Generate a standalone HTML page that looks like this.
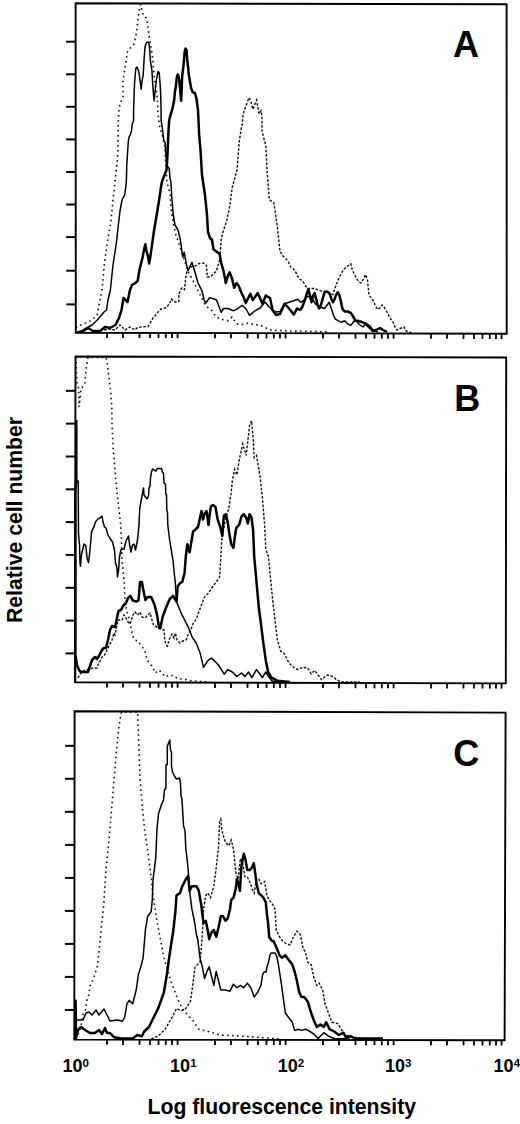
<!DOCTYPE html><html><head><meta charset="utf-8"><style>html,body{margin:0;padding:0;background:#fff;overflow:hidden;}svg{display:block;font-family:"Liberation Sans",sans-serif;font-weight:bold;}</style></head><body>
<svg width="520" height="1124" viewBox="0 0 520 1124">
<rect width="520" height="1124" fill="#fff"/>
<polyline points="76.0,328.0 78.0,326.0 86.0,323.0 92.0,320.0 97.0,315.0 99.0,305.0 102.0,290.0 104.6,262.0 107.3,242.0 110.8,222.7 113.0,200.0 116.5,168.0 117.4,160.6 118.0,147.0 118.0,133.6 118.3,120.0 118.7,112.0 120.0,104.0 123.0,97.0 123.0,80.0 126.0,62.0 127.3,52.0 130.5,47.9 134.0,44.0 135.4,38.0 136.7,31.0 137.7,21.0 139.0,12.0 140.6,4.5 142.0,10.0 143.6,16.0 146.5,18.0 148.1,28.0 149.2,37.0 152.3,55.0 154.6,80.0 157.0,97.0 157.8,104.0 157.8,110.8 159.1,124.2 161.1,131.0 164.5,144.4 165.2,149.8 165.4,158.5 166.9,181.5 168.5,187.7 170.0,193.8 170.8,206.2 172.3,216.9 173.1,223.0 176.0,235.0 180.0,247.0 186.0,265.0 188.8,273.0 192.0,278.5 196.5,287.7 199.6,293.8 202.0,298.5 205.0,304.6 208.0,307.7 212.0,310.8 215.0,315.4 218.8,318.5 224.2,320.0 228.0,320.8 232.0,317.0 236.5,323.8 241.2,324.6 248.8,323.0 253.5,324.6 260.0,325.0 270.0,330.0 290.0,331.0 330.0,332.0" fill="none" stroke="#111" stroke-width="1.6" stroke-dasharray="1.6 3.4" stroke-linecap="butt"/>
<polyline points="100.0,331.0 104.0,330.0 110.0,329.0 115.0,330.0 120.0,325.0 125.0,330.0 130.0,327.0 135.0,330.0 137.3,327.7 142.0,326.8 148.0,326.5 150.5,322.7 153.0,318.0 155.0,316.0 158.0,312.0 161.0,309.0 165.0,308.0 167.0,307.0 170.0,302.3 171.5,299.0 174.0,302.0 178.8,301.5 178.8,295.0 180.0,290.7 182.0,288.0 184.5,289.6 185.2,282.0 186.0,275.0 187.3,270.0 190.0,267.0 195.0,266.0 199.0,263.5 203.5,263.0 206.5,265.4 207.3,277.0 210.4,277.0 216.5,270.8 219.6,260.0 221.2,240.0 223.0,232.0 226.9,220.0 230.0,204.6 232.3,187.0 237.0,170.0 239.4,140.0 240.4,134.2 241.3,128.5 242.3,123.7 242.8,117.0 244.2,110.2 246.0,106.0 249.0,97.7 250.5,100.0 252.9,109.2 255.0,104.0 256.7,100.0 258.2,109.2 259.1,114.0 261.0,110.7 262.0,116.0 262.0,123.7 262.0,130.4 263.5,137.0 265.8,145.4 267.0,170.0 269.3,199.6 273.9,203.0 277.4,227.4 280.0,251.5 283.0,256.0 286.2,259.2 288.5,262.3 290.8,267.0 293.0,268.5 295.4,271.5 297.7,276.2 300.0,279.2 302.3,280.8 304.6,283.8 307.0,288.5 310.8,288.5 314.6,288.5 318.5,290.0 322.3,291.5 326.2,291.5 329.2,293.0 333.0,294.6 335.4,287.0 337.7,280.8 340.0,276.2 342.3,271.5 344.6,268.5 347.0,267.0 349.2,264.6 350.8,263.8 352.3,270.0 354.6,274.6 357.0,279.2 358.5,281.5 361.0,283.0 363.5,279.0 365.5,274.5 367.5,280.0 368.5,290.0 369.0,295.0 373.0,300.0 375.0,305.0 377.5,309.5 380.0,308.0 382.0,305.0 384.0,307.0 387.0,312.0 390.0,318.0 393.0,322.0 395.0,327.0 397.0,330.0 400.0,328.5 404.0,327.0 406.0,331.0 412.0,333.0" fill="none" stroke="#111" stroke-width="1.4" stroke-dasharray="2.6 1.6"/>
<polyline points="77.0,332.0 80.0,332.0 86.5,328.0 92.0,325.0 97.3,320.0 104.0,312.0 106.5,310.0 108.0,300.0 110.4,290.0 113.0,265.0 116.5,242.0 118.0,228.0 120.0,211.0 122.0,200.0 124.6,195.0 125.0,192.7 126.0,185.0 126.4,180.0 126.8,164.6 127.5,153.8 128.2,143.0 128.8,137.7 130.2,135.0 131.5,131.0 132.2,124.2 133.6,120.2 133.6,110.0 134.5,83.8 135.8,68.5 137.0,67.0 138.8,71.5 140.1,80.8 141.2,89.2 141.9,82.3 143.2,74.6 144.2,57.7 145.0,47.0 146.5,42.3 148.8,42.3 149.6,48.5 150.4,60.8 151.9,70.0 152.7,83.8 153.5,94.6 154.2,100.8 155.0,91.5 156.5,79.2 158.1,71.5 159.2,73.0 160.1,83.8 160.7,94.6 161.1,110.0 161.1,120.2 162.5,129.6 163.8,140.4 165.2,143.0 165.9,153.8 166.5,164.6 169.2,168.6 170.0,178.0 170.8,181.5 172.0,200.0 173.3,215.0 175.0,225.0 178.0,230.0 180.4,240.0 182.7,257.0 184.2,252.3 186.5,264.6 188.0,270.8 191.9,262.3 195.0,272.3 198.0,283.0 202.0,290.8 204.2,300.0 205.8,303.0 209.6,297.7 212.7,298.5 216.5,300.0 218.8,306.0 221.2,312.3 223.5,308.5 228.0,308.5 233.5,310.8 238.0,308.5 242.0,305.4 245.8,308.5 249.6,315.4 255.0,310.8 260.0,308.0 265.0,302.0 270.0,308.0 276.0,312.0 280.0,311.5 284.6,303.8 289.2,302.3 293.8,300.8 297.7,299.2 300.8,302.3 304.0,300.0 307.0,297.0 310.8,296.0 315.4,303.8 320.0,307.0 324.6,308.5 329.2,302.3 332.3,311.5 333.8,316.2 335.4,319.2 338.5,320.8 341.5,322.3 344.6,320.8 347.7,323.8 350.8,325.4 355.0,320.0 360.0,325.0 363.0,327.0 366.0,323.0 370.0,326.0 373.0,330.0 378.0,332.0" fill="none" stroke="#000" stroke-width="1.5" stroke-linejoin="round"/>
<polyline points="78.0,332.0 80.0,332.0 85.0,330.0 88.0,328.0 93.0,331.0 100.0,331.0 105.0,327.0 110.0,328.0 115.4,325.0 119.0,318.0 121.5,310.0 123.5,298.0 125.5,300.0 127.5,302.0 130.0,290.0 132.0,285.0 135.8,282.7 137.7,280.8 139.6,269.2 142.5,257.7 144.4,248.0 145.4,244.2 146.3,250.0 148.3,257.7 149.2,263.5 150.2,257.7 152.1,244.2 154.0,230.8 156.0,219.0 158.8,202.0 161.7,182.7 163.8,176.7 166.5,170.0 167.2,160.6 167.9,144.4 168.5,131.0 169.2,120.2 170.6,114.8 172.6,108.0 174.2,100.0 175.0,91.5 175.8,87.0 177.0,76.0 178.0,74.6 179.2,79.2 180.0,88.5 181.2,100.8 182.2,76.0 183.5,65.4 184.7,51.5 185.5,48.5 186.5,50.0 187.3,60.8 188.1,67.0 188.8,74.6 189.6,79.2 191.2,88.5 192.7,92.3 195.0,93.0 196.5,99.0 198.0,110.0 198.5,120.0 199.2,135.4 200.5,150.0 202.0,175.0 205.0,195.0 207.0,215.0 208.0,232.0 210.0,238.0 212.0,240.0 213.5,249.2 217.3,252.3 219.6,253.8 221.2,263.0 223.5,270.8 225.8,283.0 228.0,275.4 229.6,272.3 232.0,278.5 234.2,287.7 236.5,283.0 238.8,286.0 241.2,292.3 243.5,297.0 245.8,303.0 248.0,298.5 250.4,293.8 252.7,300.0 255.0,297.0 257.7,293.0 262.4,303.5 265.8,295.5 270.0,298.0 272.7,310.5 276.0,315.0 280.0,314.0 284.6,303.8 287.7,307.0 291.5,311.5 293.8,314.6 297.0,308.5 300.0,310.0 302.3,307.0 304.6,300.8 307.0,293.0 308.5,289.2 310.0,296.0 311.5,302.3 313.0,296.0 314.6,293.0 316.2,299.0 317.7,305.4 319.2,308.5 320.8,305.4 323.0,297.7 324.6,292.3 326.2,291.5 328.5,292.3 330.0,294.6 331.5,299.2 333.0,302.3 334.6,299.2 336.2,294.6 337.7,292.3 339.2,294.6 340.8,300.8 342.3,308.5 344.6,311.5 347.7,311.5 350.8,313.0 353.0,316.2 355.4,320.8 357.7,320.8 362.0,322.0 366.0,324.0 370.0,328.0 373.0,331.0 376.0,330.0 380.0,328.0 383.0,330.0 387.0,332.0" fill="none" stroke="#000" stroke-width="2.5" stroke-linejoin="round"/>
<polygon points="75.6,3.3 506.6,4.3 506.7,333.8 75.8,332.7" fill="none" stroke="#000" stroke-width="1.9" stroke-linejoin="miter"/>
<line x1="66.1" y1="41.7" x2="75.6" y2="41.7" stroke="#000" stroke-width="2"/>
<line x1="66.1" y1="74.3" x2="75.6" y2="74.3" stroke="#000" stroke-width="2"/>
<line x1="66.2" y1="106.8" x2="75.7" y2="106.8" stroke="#000" stroke-width="2"/>
<line x1="66.2" y1="139.4" x2="75.7" y2="139.4" stroke="#000" stroke-width="2"/>
<line x1="66.2" y1="172.0" x2="75.7" y2="172.0" stroke="#000" stroke-width="2"/>
<line x1="66.2" y1="204.5" x2="75.7" y2="204.5" stroke="#000" stroke-width="2"/>
<line x1="66.2" y1="237.1" x2="75.7" y2="237.1" stroke="#000" stroke-width="2"/>
<line x1="66.3" y1="270.7" x2="75.8" y2="270.7" stroke="#000" stroke-width="2"/>
<line x1="66.3" y1="304.4" x2="75.8" y2="304.4" stroke="#000" stroke-width="2"/>
<line x1="107.0" y1="332.8" x2="107.0" y2="338.0" stroke="#000" stroke-width="1.8"/>
<line x1="123.0" y1="332.8" x2="123.0" y2="338.0" stroke="#000" stroke-width="1.8"/>
<line x1="139.5" y1="332.9" x2="139.5" y2="338.1" stroke="#000" stroke-width="1.8"/>
<line x1="150.0" y1="332.9" x2="150.0" y2="338.1" stroke="#000" stroke-width="1.8"/>
<line x1="158.5" y1="332.9" x2="158.5" y2="338.1" stroke="#000" stroke-width="1.8"/>
<line x1="165.8" y1="332.9" x2="165.8" y2="338.1" stroke="#000" stroke-width="1.8"/>
<line x1="172.0" y1="332.9" x2="172.0" y2="338.1" stroke="#000" stroke-width="1.8"/>
<line x1="177.6" y1="333.0" x2="177.6" y2="338.2" stroke="#000" stroke-width="1.8"/>
<line x1="215.0" y1="333.1" x2="215.0" y2="338.3" stroke="#000" stroke-width="1.8"/>
<line x1="231.0" y1="333.1" x2="231.0" y2="338.3" stroke="#000" stroke-width="1.8"/>
<line x1="247.5" y1="333.1" x2="247.5" y2="338.3" stroke="#000" stroke-width="1.8"/>
<line x1="258.0" y1="333.2" x2="258.0" y2="338.4" stroke="#000" stroke-width="1.8"/>
<line x1="266.5" y1="333.2" x2="266.5" y2="338.4" stroke="#000" stroke-width="1.8"/>
<line x1="273.8" y1="333.2" x2="273.8" y2="338.4" stroke="#000" stroke-width="1.8"/>
<line x1="280.0" y1="333.2" x2="280.0" y2="338.4" stroke="#000" stroke-width="1.8"/>
<line x1="285.6" y1="333.2" x2="285.6" y2="338.4" stroke="#000" stroke-width="1.8"/>
<line x1="323.0" y1="333.3" x2="323.0" y2="338.5" stroke="#000" stroke-width="1.8"/>
<line x1="339.0" y1="333.4" x2="339.0" y2="338.6" stroke="#000" stroke-width="1.8"/>
<line x1="355.5" y1="333.4" x2="355.5" y2="338.6" stroke="#000" stroke-width="1.8"/>
<line x1="366.0" y1="333.4" x2="366.0" y2="338.6" stroke="#000" stroke-width="1.8"/>
<line x1="374.5" y1="333.5" x2="374.5" y2="338.7" stroke="#000" stroke-width="1.8"/>
<line x1="381.8" y1="333.5" x2="381.8" y2="338.7" stroke="#000" stroke-width="1.8"/>
<line x1="388.0" y1="333.5" x2="388.0" y2="338.7" stroke="#000" stroke-width="1.8"/>
<line x1="393.6" y1="333.5" x2="393.6" y2="338.7" stroke="#000" stroke-width="1.8"/>
<line x1="431.0" y1="333.6" x2="431.0" y2="338.8" stroke="#000" stroke-width="1.8"/>
<line x1="447.0" y1="333.6" x2="447.0" y2="338.8" stroke="#000" stroke-width="1.8"/>
<line x1="463.5" y1="333.7" x2="463.5" y2="338.9" stroke="#000" stroke-width="1.8"/>
<line x1="474.0" y1="333.7" x2="474.0" y2="338.9" stroke="#000" stroke-width="1.8"/>
<line x1="482.5" y1="333.7" x2="482.5" y2="338.9" stroke="#000" stroke-width="1.8"/>
<line x1="489.8" y1="333.8" x2="489.8" y2="339.0" stroke="#000" stroke-width="1.8"/>
<line x1="496.0" y1="333.8" x2="496.0" y2="339.0" stroke="#000" stroke-width="1.8"/>
<line x1="501.6" y1="333.8" x2="501.6" y2="339.0" stroke="#000" stroke-width="1.8"/>
<polyline points="76.0,357.0 76.3,365.0 76.5,373.0 76.8,382.0 78.5,388.0 79.0,398.0 79.0,407.0 80.0,399.0 81.0,389.0 84.8,384.0 86.0,370.0 87.3,361.0 88.0,357.5 106.0,357.5 107.0,361.0 108.3,372.0 109.6,383.0 110.8,392.0 111.8,407.0 112.0,424.3 113.1,447.4 115.4,475.0 117.7,498.2 120.7,525.0 121.5,540.0 122.0,560.0 124.0,580.0 125.0,600.0 127.0,612.0 130.0,622.0 132.5,636.0 135.0,640.0 138.0,641.0 141.5,646.0 144.5,650.0 146.0,655.0 147.0,660.0 152.0,666.0 155.5,673.0 159.0,670.0 162.0,673.0 165.5,677.0 169.0,675.0 174.0,676.0 178.0,679.0 183.0,679.0 192.0,681.0 210.0,682.0" fill="none" stroke="#111" stroke-width="1.6" stroke-dasharray="1.6 3.4" stroke-linecap="butt"/>
<polyline points="78.0,678.0 80.0,674.0 85.0,670.0 93.0,668.0 97.0,668.0 98.0,665.0 102.0,657.0 104.0,656.0 108.0,648.0 112.0,640.0 114.0,633.0 115.0,635.0 118.0,620.0 122.0,620.0 124.0,615.0 126.0,618.0 128.0,622.0 130.0,624.0 133.0,615.0 135.0,612.0 137.5,615.0 140.0,612.0 142.0,617.0 145.0,618.0 148.0,615.0 150.0,613.0 152.0,620.0 153.5,625.0 158.0,628.0 164.0,630.0 164.5,638.0 166.0,645.0 167.5,646.0 169.0,640.0 172.0,634.0 174.0,638.0 175.5,633.0 177.0,640.0 180.0,643.0 183.0,641.0 186.0,640.0 188.0,635.0 190.0,632.0 193.1,623.5 196.5,618.8 198.8,612.0 202.3,602.7 204.6,597.0 208.1,593.5 212.7,586.5 216.2,582.0 219.6,577.3 221.9,538.5 225.4,520.0 228.8,508.5 231.2,492.3 232.3,480.8 234.6,469.2 237.0,475.0 239.2,460.0 242.7,443.8 246.2,455.4 249.6,425.4 251.5,420.8 253.1,436.9 254.2,457.7 256.5,455.4 260.0,476.2 262.3,496.9 264.6,524.6 265.8,549.6 268.5,556.5 270.4,577.3 272.7,600.4 275.0,620.0 277.3,639.6 280.8,651.2 284.2,653.5 288.8,662.7 293.5,667.3 298.0,669.6 302.7,667.3 307.7,668.0 311.2,673.8 314.6,670.4 318.1,675.0 321.5,679.6 327.3,675.0 331.9,676.2 336.5,679.6 341.2,681.9 360.0,682.0" fill="none" stroke="#111" stroke-width="1.4" stroke-dasharray="2.6 1.6"/>
<polyline points="75.5,682.0 75.5,481.0 78.2,481.0 78.5,533.0 79.5,545.0 80.0,562.7 80.5,566.3 81.3,555.6 84.0,544.0 85.8,545.8 87.1,558.3 88.5,562.7 89.8,552.0 91.1,537.0 91.6,531.6 93.8,527.2 95.6,521.8 97.8,519.1 100.0,518.0 102.0,516.0 103.0,522.0 104.5,527.0 106.0,528.0 108.0,535.0 110.0,538.5 112.5,542.0 114.5,550.0 115.5,563.0 117.0,568.0 117.5,577.0 118.5,571.0 119.5,557.0 121.0,549.5 124.0,549.0 126.0,541.0 128.5,536.0 129.5,544.0 131.0,552.0 132.5,545.0 134.0,544.0 135.5,550.0 137.5,540.0 139.0,525.0 139.8,508.0 141.3,500.0 142.7,492.0 143.5,488.0 144.0,495.0 145.5,497.0 147.0,499.0 148.5,496.0 149.0,488.0 150.0,486.0 150.5,478.0 151.5,472.0 152.5,469.0 154.0,470.0 156.0,471.0 157.5,468.5 161.5,468.5 162.5,472.0 163.5,473.5 164.0,483.0 165.5,484.0 165.8,494.0 166.5,495.0 166.8,510.0 167.5,512.0 167.8,525.0 169.7,540.4 173.1,561.2 175.4,584.3 176.5,601.7 180.8,612.3 184.6,620.0 188.5,627.7 192.3,637.3 196.2,643.0 200.0,652.7 203.5,667.3 208.1,660.4 211.5,658.1 215.0,661.5 218.5,665.0 224.2,674.2 227.7,669.6 232.3,672.0 236.9,676.5 241.5,673.0 245.0,676.5 248.5,672.0 251.9,677.7 256.5,669.6 260.0,674.2 262.3,677.7 265.8,672.0 268.5,676.5 272.0,681.0 290.0,682.0" fill="none" stroke="#000" stroke-width="1.5" stroke-linejoin="round"/>
<polyline points="76.3,420.0 76.3,481.0 75.3,490.0 75.3,655.0 77.0,665.0 79.0,670.0 81.0,672.0 88.0,672.0 90.0,666.0 92.0,660.0 95.0,657.0 97.0,659.0 99.5,655.0 102.0,650.0 104.0,648.0 106.0,648.0 108.0,640.0 110.0,630.0 112.0,626.0 115.0,627.0 117.0,618.0 118.5,611.0 121.0,610.0 123.0,606.0 126.0,603.0 128.0,598.0 130.4,595.8 132.7,600.4 136.2,601.5 138.5,600.4 140.1,581.9 141.9,581.9 143.1,588.8 145.4,600.0 147.7,596.9 151.2,596.9 154.6,605.0 156.9,614.2 159.2,628.1 160.4,628.1 162.7,616.5 166.2,607.3 169.6,599.2 173.1,595.8 176.5,601.5 177.7,586.5 180.0,583.1 182.3,581.9 184.6,572.7 185.8,556.5 187.3,544.2 189.6,552.3 193.1,531.5 195.0,530.0 198.0,527.0 199.5,520.0 201.5,511.0 203.0,519.6 204.5,514.0 206.5,511.0 208.5,525.0 210.0,512.0 211.0,506.0 213.0,505.0 215.5,507.0 217.7,519.6 220.4,527.3 222.3,536.0 223.8,515.8 225.8,514.2 227.7,522.0 229.2,532.7 231.2,544.2 233.5,547.7 234.6,538.5 236.2,528.1 239.2,524.6 241.5,516.5 243.8,514.2 246.2,517.7 247.8,523.5 249.6,514.2 251.5,517.7 253.1,530.0 254.2,556.5 256.5,581.9 258.8,607.3 261.2,625.8 263.5,644.2 265.8,660.4 268.1,672.0 271.5,677.7 277.3,680.7 290.0,682.0" fill="none" stroke="#000" stroke-width="2.5" stroke-linejoin="round"/>
<polygon points="75.5,356.5 506.2,357.5 505.8,683.4 75.0,682.3" fill="none" stroke="#000" stroke-width="1.9" stroke-linejoin="miter"/>
<line x1="65.9" y1="390.8" x2="75.4" y2="390.8" stroke="#000" stroke-width="2"/>
<line x1="65.9" y1="423.6" x2="75.4" y2="423.6" stroke="#000" stroke-width="2"/>
<line x1="65.8" y1="456.5" x2="75.3" y2="456.5" stroke="#000" stroke-width="2"/>
<line x1="65.8" y1="489.3" x2="75.3" y2="489.3" stroke="#000" stroke-width="2"/>
<line x1="65.7" y1="522.1" x2="75.2" y2="522.1" stroke="#000" stroke-width="2"/>
<line x1="65.7" y1="554.9" x2="75.2" y2="554.9" stroke="#000" stroke-width="2"/>
<line x1="65.6" y1="587.8" x2="75.1" y2="587.8" stroke="#000" stroke-width="2"/>
<line x1="65.6" y1="620.6" x2="75.1" y2="620.6" stroke="#000" stroke-width="2"/>
<line x1="65.5" y1="653.4" x2="75.0" y2="653.4" stroke="#000" stroke-width="2"/>
<line x1="107.0" y1="682.4" x2="107.0" y2="687.6" stroke="#000" stroke-width="1.8"/>
<line x1="123.0" y1="682.4" x2="123.0" y2="687.6" stroke="#000" stroke-width="1.8"/>
<line x1="139.5" y1="682.5" x2="139.5" y2="687.7" stroke="#000" stroke-width="1.8"/>
<line x1="150.0" y1="682.5" x2="150.0" y2="687.7" stroke="#000" stroke-width="1.8"/>
<line x1="158.5" y1="682.5" x2="158.5" y2="687.7" stroke="#000" stroke-width="1.8"/>
<line x1="165.8" y1="682.5" x2="165.8" y2="687.7" stroke="#000" stroke-width="1.8"/>
<line x1="172.0" y1="682.5" x2="172.0" y2="687.7" stroke="#000" stroke-width="1.8"/>
<line x1="177.6" y1="682.6" x2="177.6" y2="687.8" stroke="#000" stroke-width="1.8"/>
<line x1="215.0" y1="682.7" x2="215.0" y2="687.9" stroke="#000" stroke-width="1.8"/>
<line x1="231.0" y1="682.7" x2="231.0" y2="687.9" stroke="#000" stroke-width="1.8"/>
<line x1="247.5" y1="682.7" x2="247.5" y2="687.9" stroke="#000" stroke-width="1.8"/>
<line x1="258.0" y1="682.8" x2="258.0" y2="688.0" stroke="#000" stroke-width="1.8"/>
<line x1="266.5" y1="682.8" x2="266.5" y2="688.0" stroke="#000" stroke-width="1.8"/>
<line x1="273.8" y1="682.8" x2="273.8" y2="688.0" stroke="#000" stroke-width="1.8"/>
<line x1="280.0" y1="682.8" x2="280.0" y2="688.0" stroke="#000" stroke-width="1.8"/>
<line x1="285.6" y1="682.8" x2="285.6" y2="688.0" stroke="#000" stroke-width="1.8"/>
<line x1="323.0" y1="682.9" x2="323.0" y2="688.1" stroke="#000" stroke-width="1.8"/>
<line x1="339.0" y1="683.0" x2="339.0" y2="688.2" stroke="#000" stroke-width="1.8"/>
<line x1="355.5" y1="683.0" x2="355.5" y2="688.2" stroke="#000" stroke-width="1.8"/>
<line x1="366.0" y1="683.0" x2="366.0" y2="688.2" stroke="#000" stroke-width="1.8"/>
<line x1="374.5" y1="683.1" x2="374.5" y2="688.3" stroke="#000" stroke-width="1.8"/>
<line x1="381.8" y1="683.1" x2="381.8" y2="688.3" stroke="#000" stroke-width="1.8"/>
<line x1="388.0" y1="683.1" x2="388.0" y2="688.3" stroke="#000" stroke-width="1.8"/>
<line x1="393.6" y1="683.1" x2="393.6" y2="688.3" stroke="#000" stroke-width="1.8"/>
<line x1="431.0" y1="683.2" x2="431.0" y2="688.4" stroke="#000" stroke-width="1.8"/>
<line x1="447.0" y1="683.2" x2="447.0" y2="688.4" stroke="#000" stroke-width="1.8"/>
<line x1="463.5" y1="683.3" x2="463.5" y2="688.5" stroke="#000" stroke-width="1.8"/>
<line x1="474.0" y1="683.3" x2="474.0" y2="688.5" stroke="#000" stroke-width="1.8"/>
<line x1="482.5" y1="683.3" x2="482.5" y2="688.5" stroke="#000" stroke-width="1.8"/>
<line x1="489.8" y1="683.4" x2="489.8" y2="688.6" stroke="#000" stroke-width="1.8"/>
<line x1="496.0" y1="683.4" x2="496.0" y2="688.6" stroke="#000" stroke-width="1.8"/>
<line x1="501.6" y1="683.4" x2="501.6" y2="688.6" stroke="#000" stroke-width="1.8"/>
<polyline points="76.0,1039.0 77.3,1036.0 80.8,1027.0 83.0,1015.0 85.4,1010.0 87.0,1000.0 88.8,995.0 90.0,986.0 93.0,980.0 94.0,977.0 97.0,967.0 98.0,961.0 101.4,927.7 103.7,904.6 106.0,870.0 107.2,857.7 109.5,834.6 111.8,806.9 114.1,779.2 116.4,751.5 118.7,728.5 121.0,713.5 122.0,712.0 137.7,712.0 138.8,744.6 140.0,776.9 142.3,806.9 144.6,830.0 148.1,853.1 150.4,871.5 151.5,880.0 152.7,893.0 156.1,916.2 160.4,939.2 163.9,957.7 167.3,969.2 170.8,980.8 174.2,990.0 177.7,999.2 182.3,1008.5 188.1,1015.4 192.7,1020.0 198.8,1029.2 208.1,1031.5 219.6,1035.0 242.7,1036.2 258.8,1037.3 280.0,1039.0" fill="none" stroke="#111" stroke-width="1.6" stroke-dasharray="1.6 3.4" stroke-linecap="butt"/>
<polyline points="151.2,1039.0 158.1,1036.2 165.0,1029.2 171.9,1017.7 176.5,1008.5 181.2,1010.8 185.8,1008.5 190.4,1001.5 192.7,985.4 195.0,967.0 200.0,962.3 201.2,948.5 202.3,934.6 203.5,909.2 205.8,895.4 208.1,893.0 210.4,897.7 213.8,886.2 216.2,867.7 218.5,847.0 219.6,821.5 220.8,819.2 221.9,830.8 225.4,842.3 228.8,845.8 231.2,840.0 233.5,849.2 235.8,872.3 238.1,879.2 240.4,858.5 242.7,863.1 245.0,876.9 247.3,876.9 249.6,881.5 251.9,888.5 254.2,893.1 256.5,879.2 258.8,879.2 261.2,883.8 264.6,881.5 266.9,895.4 269.2,900.0 272.7,904.6 275.0,909.2 276.2,930.0 279.6,936.9 283.1,941.5 286.5,943.8 290.0,945.0 293.5,936.9 297.0,931.2 300.4,934.6 303.1,948.5 305.4,951.9 307.7,962.3 311.2,964.6 313.5,976.2 316.9,985.4 319.2,983.1 322.7,990.0 325.0,1003.8 328.5,1013.0 331.9,1022.3 337.7,1023.5 341.2,1029.2 344.6,1035.0 349.2,1036.2 355.0,1037.3 364.2,1038.5 380.0,1039.0" fill="none" stroke="#111" stroke-width="1.4" stroke-dasharray="2.6 1.6"/>
<polyline points="75.5,1039.0 75.5,1000.0 76.5,1020.0 79.6,1020.0 83.0,1020.0 86.0,1013.0 89.0,1012.0 92.0,1015.0 96.0,1010.0 99.0,1015.0 104.0,1009.0 107.0,1015.0 110.0,1021.0 117.7,1020.0 122.3,1021.2 124.6,1017.7 126.9,1003.8 129.2,1000.4 132.7,1003.8 136.2,990.0 138.5,973.9 140.8,966.9 143.1,957.7 145.4,930.0 147.7,916.2 151.2,911.5 152.3,900.0 153.0,880.0 155.8,857.7 156.9,830.0 158.5,813.8 161.5,804.6 163.5,800.0 164.5,790.0 165.9,788.0 166.0,765.0 167.3,764.6 167.3,746.3 169.8,740.0 170.5,750.0 171.5,752.0 171.5,766.0 172.5,772.0 175.0,777.0 176.5,779.0 179.5,778.0 180.5,783.0 181.0,795.0 182.0,800.0 183.5,825.4 185.0,831.0 185.8,848.5 187.3,860.8 188.1,869.2 189.6,891.0 191.9,909.2 194.2,920.0 196.5,935.0 197.7,939.2 200.0,957.7 202.3,966.9 204.6,978.5 206.9,971.5 209.2,966.9 211.5,976.2 213.8,985.4 216.2,971.5 218.5,980.8 220.8,990.0 225.4,990.0 230.0,991.2 233.5,984.2 236.9,987.7 240.4,985.4 243.8,987.7 247.3,983.1 250.8,987.7 254.2,996.9 257.7,992.3 261.0,985.0 262.5,975.0 264.0,972.0 266.0,972.0 267.0,967.0 268.5,962.0 270.0,955.0 271.0,953.0 275.0,953.0 277.0,957.0 278.5,965.0 280.0,975.0 281.5,985.0 283.1,996.9 285.4,1013.0 288.8,1017.7 292.3,1022.3 294.6,1030.4 298.1,1029.2 301.5,1030.4 305.4,1029.2 310.0,1031.5 313.5,1033.8 318.1,1038.5 323.8,1032.7 328.5,1036.2 334.2,1038.5 350.0,1039.0" fill="none" stroke="#000" stroke-width="1.5" stroke-linejoin="round"/>
<polyline points="75.5,1000.0 76.0,1038.0 78.0,1030.0 81.0,1027.0 85.0,1030.0 90.0,1033.0 95.0,1033.0 99.0,1030.0 102.0,1034.0 105.0,1028.0 107.0,1033.0 110.0,1033.0 114.2,1037.3 121.2,1038.5 132.7,1038.5 137.3,1035.0 141.9,1036.2 144.2,1031.5 148.9,1027.0 153.5,1017.7 158.1,1008.5 161.5,999.2 163.9,992.3 166.2,978.5 167.3,971.5 168.5,962.3 170.8,946.2 173.1,932.3 175.4,911.5 176.5,895.4 180.0,893.1 182.3,886.2 185.8,879.2 187.3,877.0 188.1,876.0 189.6,890.8 191.9,886.2 196.5,886.2 198.8,890.8 201.2,904.6 203.5,923.1 205.8,920.8 208.1,932.3 209.2,939.2 211.5,932.3 213.8,930.0 216.2,936.9 218.5,927.7 220.8,916.2 223.1,916.2 225.4,920.8 227.7,918.5 230.0,909.2 231.2,900.0 233.5,897.7 235.8,888.5 236.9,879.2 238.5,883.8 239.9,890.8 241.5,865.4 243.8,853.8 245.5,859.6 247.3,870.0 249.6,870.0 251.9,867.7 253.8,863.1 255.4,874.6 256.5,883.8 258.8,893.1 261.2,895.4 263.5,897.7 265.8,902.3 266.9,913.8 268.1,923.1 269.2,937.0 271.5,940.4 273.8,941.5 276.2,947.0 279.6,955.4 281.9,957.7 285.4,955.4 288.8,960.0 292.3,964.6 294.6,971.5 296.9,980.8 299.2,992.3 301.5,996.9 304.2,996.9 307.7,1001.5 311.2,1013.0 314.6,1022.3 316.9,1026.9 320.4,1024.6 323.8,1026.9 326.2,1022.3 329.6,1029.2 334.2,1031.5 338.8,1035.0 343.5,1032.7 345.8,1037.3 350.4,1036.2 355.0,1038.5 383.0,1038.5" fill="none" stroke="#000" stroke-width="2.5" stroke-linejoin="round"/>
<polygon points="74.6,711.2 505.6,712.6 504.6,1040.2 74.3,1039.6" fill="none" stroke="#000" stroke-width="1.9" stroke-linejoin="miter"/>
<line x1="65.1" y1="745.8" x2="74.6" y2="745.8" stroke="#000" stroke-width="2"/>
<line x1="65.0" y1="778.8" x2="74.5" y2="778.8" stroke="#000" stroke-width="2"/>
<line x1="65.0" y1="811.8" x2="74.5" y2="811.8" stroke="#000" stroke-width="2"/>
<line x1="65.0" y1="844.9" x2="74.5" y2="844.9" stroke="#000" stroke-width="2"/>
<line x1="64.9" y1="877.9" x2="74.4" y2="877.9" stroke="#000" stroke-width="2"/>
<line x1="64.9" y1="910.9" x2="74.4" y2="910.9" stroke="#000" stroke-width="2"/>
<line x1="64.9" y1="943.9" x2="74.4" y2="943.9" stroke="#000" stroke-width="2"/>
<line x1="64.9" y1="976.9" x2="74.4" y2="976.9" stroke="#000" stroke-width="2"/>
<line x1="64.8" y1="1010.0" x2="74.3" y2="1010.0" stroke="#000" stroke-width="2"/>
<line x1="107.0" y1="1039.6" x2="107.0" y2="1044.8" stroke="#000" stroke-width="1.8"/>
<line x1="123.0" y1="1039.7" x2="123.0" y2="1044.9" stroke="#000" stroke-width="1.8"/>
<line x1="139.5" y1="1039.7" x2="139.5" y2="1044.9" stroke="#000" stroke-width="1.8"/>
<line x1="150.0" y1="1039.7" x2="150.0" y2="1044.9" stroke="#000" stroke-width="1.8"/>
<line x1="158.5" y1="1039.7" x2="158.5" y2="1044.9" stroke="#000" stroke-width="1.8"/>
<line x1="165.8" y1="1039.7" x2="165.8" y2="1044.9" stroke="#000" stroke-width="1.8"/>
<line x1="172.0" y1="1039.7" x2="172.0" y2="1044.9" stroke="#000" stroke-width="1.8"/>
<line x1="177.6" y1="1039.7" x2="177.6" y2="1044.9" stroke="#000" stroke-width="1.8"/>
<line x1="215.0" y1="1039.8" x2="215.0" y2="1045.0" stroke="#000" stroke-width="1.8"/>
<line x1="231.0" y1="1039.8" x2="231.0" y2="1045.0" stroke="#000" stroke-width="1.8"/>
<line x1="247.5" y1="1039.8" x2="247.5" y2="1045.0" stroke="#000" stroke-width="1.8"/>
<line x1="258.0" y1="1039.9" x2="258.0" y2="1045.1" stroke="#000" stroke-width="1.8"/>
<line x1="266.5" y1="1039.9" x2="266.5" y2="1045.1" stroke="#000" stroke-width="1.8"/>
<line x1="273.8" y1="1039.9" x2="273.8" y2="1045.1" stroke="#000" stroke-width="1.8"/>
<line x1="280.0" y1="1039.9" x2="280.0" y2="1045.1" stroke="#000" stroke-width="1.8"/>
<line x1="285.6" y1="1039.9" x2="285.6" y2="1045.1" stroke="#000" stroke-width="1.8"/>
<line x1="323.0" y1="1039.9" x2="323.0" y2="1045.1" stroke="#000" stroke-width="1.8"/>
<line x1="339.0" y1="1040.0" x2="339.0" y2="1045.2" stroke="#000" stroke-width="1.8"/>
<line x1="355.5" y1="1040.0" x2="355.5" y2="1045.2" stroke="#000" stroke-width="1.8"/>
<line x1="366.0" y1="1040.0" x2="366.0" y2="1045.2" stroke="#000" stroke-width="1.8"/>
<line x1="374.5" y1="1040.0" x2="374.5" y2="1045.2" stroke="#000" stroke-width="1.8"/>
<line x1="381.8" y1="1040.0" x2="381.8" y2="1045.2" stroke="#000" stroke-width="1.8"/>
<line x1="388.0" y1="1040.0" x2="388.0" y2="1045.2" stroke="#000" stroke-width="1.8"/>
<line x1="393.6" y1="1040.0" x2="393.6" y2="1045.2" stroke="#000" stroke-width="1.8"/>
<line x1="431.0" y1="1040.1" x2="431.0" y2="1045.3" stroke="#000" stroke-width="1.8"/>
<line x1="447.0" y1="1040.1" x2="447.0" y2="1045.3" stroke="#000" stroke-width="1.8"/>
<line x1="463.5" y1="1040.1" x2="463.5" y2="1045.3" stroke="#000" stroke-width="1.8"/>
<line x1="474.0" y1="1040.2" x2="474.0" y2="1045.4" stroke="#000" stroke-width="1.8"/>
<line x1="482.5" y1="1040.2" x2="482.5" y2="1045.4" stroke="#000" stroke-width="1.8"/>
<line x1="489.8" y1="1040.2" x2="489.8" y2="1045.4" stroke="#000" stroke-width="1.8"/>
<line x1="496.0" y1="1040.2" x2="496.0" y2="1045.4" stroke="#000" stroke-width="1.8"/>
<line x1="501.6" y1="1040.2" x2="501.6" y2="1045.4" stroke="#000" stroke-width="1.8"/>
<text x="453.0" y="57.2" font-size="36">A</text>
<text x="454.3" y="410.5" font-size="36">B</text>
<text x="453.2" y="766.3" font-size="36">C</text>
<text x="62.5" y="1072" font-size="18">10<tspan dy="-5.5" font-size="11.5">0</tspan></text>
<text x="170.1" y="1072" font-size="18">10<tspan dy="-5.5" font-size="11.5">1</tspan></text>
<text x="277.7" y="1072" font-size="18">10<tspan dy="-5.5" font-size="11.5">2</tspan></text>
<text x="384.9" y="1072" font-size="18">10<tspan dy="-5.5" font-size="11.5">3</tspan></text>
<text x="493.6" y="1072" font-size="18">10<tspan dy="-5.5" font-size="11.5">4</tspan></text>
<text x="147.6" y="1114.2" font-size="21.2">Log fluorescence intensity</text>
<text transform="translate(21.8,623) rotate(-90)" x="0" y="0" font-size="21.2">Relative cell number</text>
</svg></body></html>
